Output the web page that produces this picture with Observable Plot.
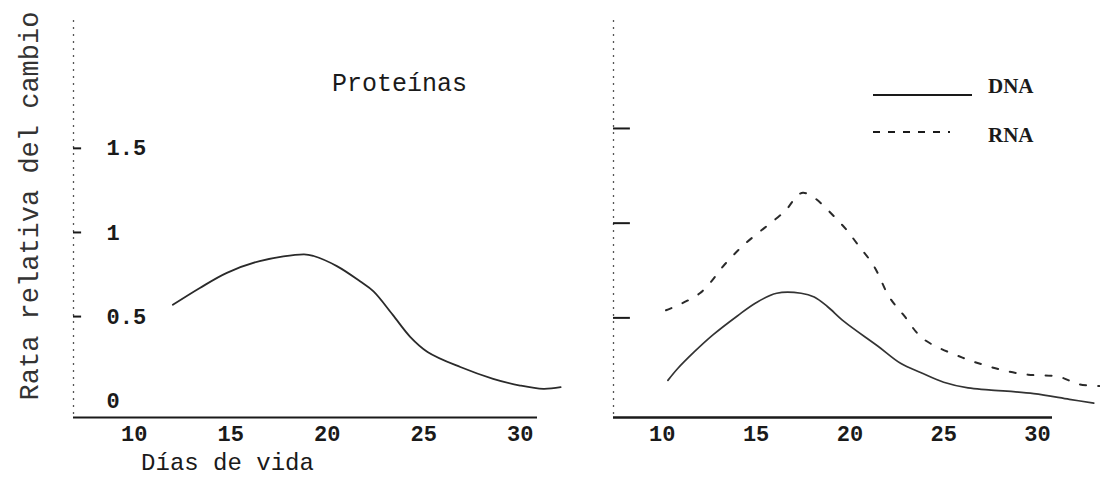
<!DOCTYPE html>
<html><head><meta charset="utf-8">
<script src="https://cdn.jsdelivr.net/npm/d3@7"></script>
<script src="https://cdn.jsdelivr.net/npm/@observablehq/plot@0.6"></script>
<style>
body{margin:0;background:#fff;}
#chart{position:relative;width:1100px;height:481px;overflow:hidden;background:#fff;}
#chart > *{position:absolute;top:0;}
</style></head><body><div id="chart"></div>
<script>
// ---- data ----
const proteinDays = [12.0, 13.4, 14.8, 16.5, 18.8, 19.3, 20.5, 21.7, 22.4, 23.4, 24.3, 25.2, 26.9, 28.6, 30.0, 31.2, 32.1];
const proteinRate = [0.57, 0.67, 0.76, 0.83, 0.87, 0.86, 0.80, 0.71, 0.65, 0.51, 0.38, 0.29, 0.20, 0.13, 0.09, 0.07, 0.08];

const dnaDays = [10.3, 10.8, 11.7, 12.7, 14.0, 15.0, 16.1, 17.4, 18.1, 18.8, 19.7, 21.5, 22.7, 23.8, 25.0, 26.3, 27.4, 29.8, 31.7, 33.0];
const dnaRate = [0.17, 0.23, 0.32, 0.41, 0.51, 0.58, 0.63, 0.63, 0.61, 0.56, 0.48, 0.35, 0.26, 0.21, 0.16, 0.13, 0.12, 0.10, 0.07, 0.05];

const rnaDays = [10.2, 12.0, 13.4, 14.4, 16.5, 17.5, 19.5, 20.4, 21.3, 22.1, 22.9, 23.9, 26.0, 27.2, 28.3, 29.5, 31.1, 32.2, 33.3];
const rnaRate = [0.54, 0.63, 0.79, 0.89, 1.06, 1.16, 1.00, 0.89, 0.77, 0.61, 0.51, 0.39, 0.29, 0.25, 0.22, 0.20, 0.19, 0.15, 0.14];

const xTicks = [10, 15, 20, 25, 30];
const yTicks = [0, 0.5, 1, 1.5];
const yTickLabels = ["0", "0.5", "1", "1.5"];
const rightYTicks = [0.5, 1, 1.5];
const legendLabels = ["DNA", "RNA"];
const panelTitle = "Proteínas";
const xTitle = "Días de vida";
const yTitle = "Rata relativa del cambio";

// ---- build ----
const mono = "'Liberation Mono', 'DejaVu Sans Mono', monospace";
const ink = "#1a1a1a";
const protein = proteinDays.map((d, i) => ({day: d, rate: proteinRate[i]}));
const dna = dnaDays.map((d, i) => ({day: d, rate: dnaRate[i]}));
const rna = rnaDays.map((d, i) => ({day: d, rate: rnaRate[i]}));

const leftX = [6.85, 30.9], leftY = [-0.10, 2.26];
const left = Plot.plot({
  width: 570, height: 481,
  marginLeft: 73, marginRight: 33, marginTop: 20, marginBottom: 64,
  x: {domain: leftX, label: null},
  y: {domain: leftY, axis: null},
  style: {fontFamily: mono, fontSize: "22px", color: ink, background: "transparent", overflow: "visible"},
  marks: [
    Plot.ruleX([leftX[0]], {stroke: "#555", strokeDasharray: "2,5", strokeWidth: 1.3}),
    Plot.ruleY(rightYTicks, {x1: leftX[0], x2: leftX[0] + 0.42, stroke: ink, strokeWidth: 2}),
    Plot.ruleY([leftY[0]], {stroke: ink, strokeWidth: 2}),
    Plot.axisX(xTicks, {tickSize: 0, tickPadding: 8, fontSize: 22, fontWeight: "bold", label: null}),
    Plot.text(yTicks, {y: d => d, text: (d, i) => yTickLabels[i], frameAnchor: "left", dx: 33, textAnchor: "start", fontSize: 22, fontWeight: "bold"}),
    Plot.line(protein, {x: "day", y: "rate", curve: "catmull-rom", stroke: "#2a2a2a", strokeWidth: 1.8}),
    Plot.text([panelTitle], {frameAnchor: "top", dx: 94, dy: 62, lineAnchor: "middle", fontSize: 25}),
    Plot.text([xTitle], {frameAnchor: "bottom", dx: -78, dy: 45, lineAnchor: "middle", fontSize: 24}),
    Plot.text([yTitle], {frameAnchor: "left", rotate: -90, dx: -44, dy: -13, textAnchor: "middle", lineAnchor: "middle", fontSize: 27, fill: "#333"})
  ]
});
left.style.left = "0px";

const rightX = [7.4, 30.8], rightY = [-0.026, 2.07];
const right = Plot.plot({
  width: 530, height: 481,
  marginLeft: 43, marginRight: 48, marginTop: 20, marginBottom: 64,
  x: {domain: rightX, label: null},
  y: {domain: rightY, axis: null},
  style: {fontFamily: mono, fontSize: "22px", color: ink, background: "transparent", overflow: "visible"},
  marks: [
    Plot.ruleX([rightX[0]], {stroke: "#555", strokeDasharray: "2,5", strokeWidth: 1.3}),
    Plot.ruleY(rightYTicks, {x1: rightX[0], x2: rightX[0] + 0.9, stroke: ink, strokeWidth: 2}),
    Plot.ruleY([rightY[0]], {stroke: ink, strokeWidth: 2.5}),
    Plot.axisX(xTicks, {tickSize: 0, tickPadding: 8, fontSize: 22, fontWeight: "bold", label: null}),
    Plot.line(dna, {x: "day", y: "rate", curve: "catmull-rom", stroke: "#333", strokeWidth: 1.7}),
    Plot.line(rna, {x: "day", y: "rate", curve: "catmull-rom", stroke: "#2a2a2a", strokeWidth: 2, strokeDasharray: "6,12"})
  ]
});
right.style.left = "570px";

const chart = document.getElementById("chart");
chart.append(left, right);

// legend
const leg = d3.create("svg").attr("width", 1100).attr("height", 481).style("left", "0px").style("pointer-events", "none");
const items = legendLabels.map((label, i) => ({label, dash: i === 0 ? null : "7,8", y: i === 0 ? 95 : 132, ty: i === 0 ? 93 : 142, x2: i === 0 ? 972 : 950}));
const g = leg.selectAll("g").data(items).join("g");
g.append("line").attr("x1", 873).attr("x2", d => d.x2).attr("y1", d => d.y).attr("y2", d => d.y)
  .attr("stroke", ink).attr("stroke-width", 2).attr("stroke-dasharray", d => d.dash);
g.append("text").attr("x", 988).attr("y", d => d.ty).text(d => d.label)
  .attr("font-family", "'Liberation Serif', serif").attr("font-size", 21).attr("font-weight", "bold").attr("fill", ink);
chart.append(leg.node());
</script></body></html>
